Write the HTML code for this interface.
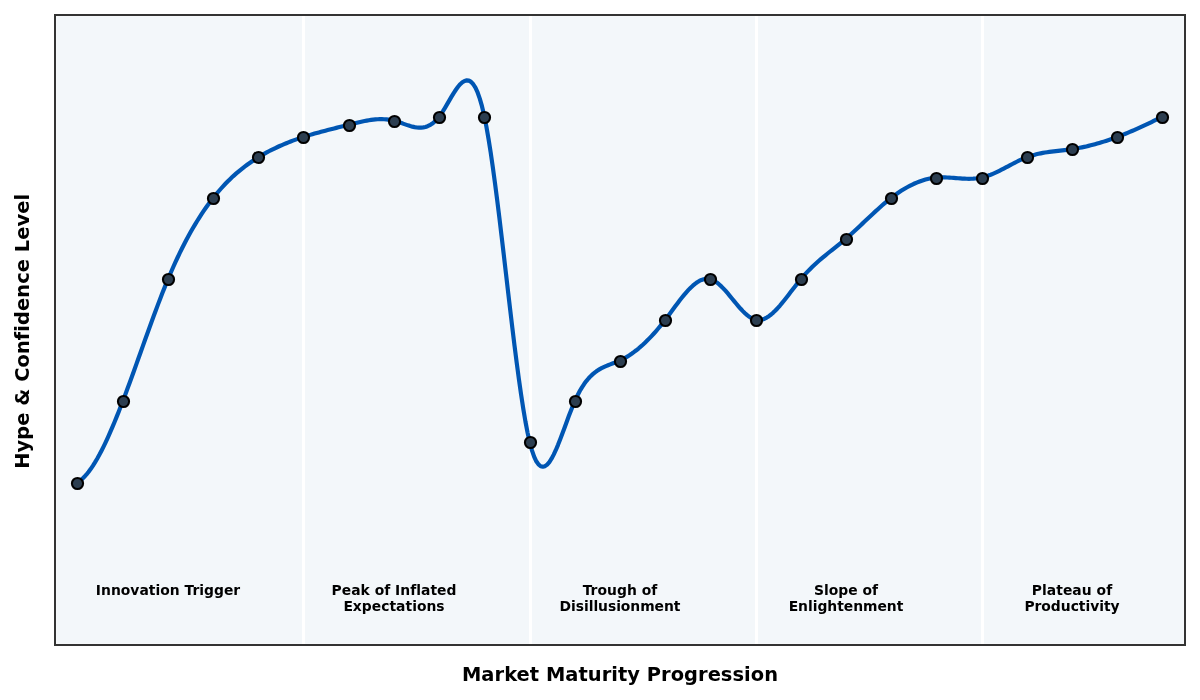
<!DOCTYPE html>
<html><head><meta charset="utf-8"><title>Hype Cycle</title>
<style>
html,body{margin:0;padding:0;background:#fff;width:1200px;height:700px;overflow:hidden}
svg{display:block;will-change:transform}
text{font-family:'DejaVu Sans','Liberation Sans',sans-serif;font-weight:bold;fill:#000;font-variant-ligatures:none;font-feature-settings:"liga" 0,"clig" 0}
</style></head><body>
<svg width="1200" height="700" viewBox="0 0 1200 700">
<defs><clipPath id="ax"><rect x="55.0" y="15.0" width="1130.0" height="630.0"/></clipPath></defs>
<rect x="0" y="0" width="1200" height="700" fill="#ffffff"/>
<g clip-path="url(#ax)">
<rect x="55.0" y="15.0" width="1130.0" height="630.0" fill="#f3f7fa"/>
<rect x="56.5" y="16.5" width="1127" height="627" fill="none" stroke="#f6f8fa" stroke-width="1"/>
<g fill="#ffffff"><rect x="302" y="16" width="3" height="628"/><rect x="529" y="16" width="3" height="628"/><rect x="755" y="16" width="3" height="628"/><rect x="981" y="16" width="3" height="628"/></g>
<path d="M77.60 482.42 L79.77 480.95 L81.95 479.17 L84.12 477.07 L86.30 474.69 L88.47 472.02 L90.64 469.07 L92.82 465.87 L94.99 462.42 L97.17 458.73 L99.34 454.81 L101.51 450.67 L103.69 446.33 L105.86 441.80 L108.04 437.09 L110.21 432.20 L112.38 427.16 L114.56 421.97 L116.73 416.64 L118.91 411.18 L121.08 405.61 L123.25 399.94 L125.43 394.18 L127.60 388.33 L129.77 382.42 L131.95 376.45 L134.12 370.43 L136.30 364.38 L138.47 358.30 L140.64 352.21 L142.82 346.12 L144.99 340.04 L147.17 333.98 L149.34 327.95 L151.51 321.97 L153.69 316.04 L155.86 310.18 L158.04 304.39 L160.21 298.70 L162.38 293.10 L164.56 287.62 L166.73 282.26 L168.91 277.03 L171.08 271.95 L173.25 267.00 L175.43 262.18 L177.60 257.50 L179.78 252.95 L181.95 248.53 L184.12 244.23 L186.30 240.06 L188.47 236.02 L190.65 232.09 L192.82 228.28 L194.99 224.59 L197.17 221.01 L199.34 217.54 L201.52 214.18 L203.69 210.93 L205.86 207.78 L208.04 204.74 L210.21 201.79 L212.38 198.95 L214.56 196.20 L216.73 193.54 L218.91 190.98 L221.08 188.50 L223.25 186.11 L225.43 183.80 L227.60 181.58 L229.78 179.43 L231.95 177.36 L234.12 175.36 L236.30 173.43 L238.47 171.57 L240.65 169.78 L242.82 168.05 L244.99 166.38 L247.17 164.77 L249.34 163.21 L251.52 161.70 L253.69 160.25 L255.86 158.84 L258.04 157.48 L260.21 156.16 L262.39 154.88 L264.56 153.64 L266.73 152.45 L268.91 151.28 L271.08 150.16 L273.26 149.07 L275.43 148.01 L277.60 146.99 L279.78 146.00 L281.95 145.04 L284.13 144.11 L286.30 143.21 L288.47 142.34 L290.65 141.49 L292.82 140.67 L294.99 139.87 L297.17 139.10 L299.34 138.35 L301.52 137.62 L303.69 136.91 L305.86 136.21 L308.04 135.54 L310.21 134.88 L312.39 134.24 L314.56 133.61 L316.73 132.99 L318.91 132.39 L321.08 131.80 L323.26 131.22 L325.43 130.64 L327.60 130.08 L329.78 129.52 L331.95 128.96 L334.13 128.41 L336.30 127.87 L338.47 127.33 L340.65 126.78 L342.82 126.24 L345.00 125.70 L347.17 125.15 L349.34 124.60 L351.52 124.05 L353.69 123.51 L355.87 122.97 L358.04 122.44 L360.21 121.94 L362.39 121.46 L364.56 121.00 L366.74 120.59 L368.91 120.22 L371.08 119.89 L373.26 119.61 L375.43 119.40 L377.60 119.24 L379.78 119.16 L381.95 119.15 L384.13 119.21 L386.30 119.37 L388.47 119.61 L390.65 119.95 L392.82 120.39 L395.00 120.94 L397.17 121.59 L399.34 122.30 L401.52 123.07 L403.69 123.85 L405.87 124.62 L408.04 125.36 L410.21 126.04 L412.39 126.64 L414.56 127.12 L416.74 127.47 L418.91 127.65 L421.08 127.64 L423.26 127.41 L425.43 126.94 L427.61 126.20 L429.78 125.16 L431.95 123.80 L434.13 122.10 L436.30 120.02 L438.48 117.53 L440.65 114.63 L442.82 111.36 L445.00 107.82 L447.17 104.13 L449.35 100.37 L451.52 96.65 L453.69 93.07 L455.87 89.74 L458.04 86.76 L460.21 84.23 L462.39 82.25 L464.56 80.93 L466.74 80.36 L468.91 80.65 L471.08 81.91 L473.26 84.23 L475.43 87.71 L477.61 92.46 L479.78 98.58 L481.95 106.18 L484.13 115.35 L486.30 126.17 L488.48 138.53 L490.65 152.26 L492.82 167.20 L495.00 183.18 L497.17 200.03 L499.35 217.58 L501.52 235.66 L503.69 254.10 L505.87 272.74 L508.04 291.41 L510.22 309.93 L512.39 328.15 L514.56 345.88 L516.74 362.98 L518.91 379.25 L521.09 394.54 L523.26 408.68 L525.43 421.51 L527.61 432.84 L529.78 442.51 L531.96 450.42 L534.13 456.64 L536.30 461.27 L538.48 464.44 L540.65 466.24 L542.82 466.79 L545.00 466.20 L547.17 464.57 L549.35 462.03 L551.52 458.67 L553.69 454.62 L555.87 449.97 L558.04 444.84 L560.22 439.34 L562.39 433.58 L564.56 427.67 L566.74 421.72 L568.91 415.84 L571.09 410.14 L573.26 404.73 L575.43 399.71 L577.61 395.16 L579.78 391.06 L581.96 387.36 L584.13 384.05 L586.30 381.10 L588.48 378.49 L590.65 376.17 L592.83 374.13 L595.00 372.34 L597.17 370.76 L599.35 369.38 L601.52 368.16 L603.70 367.08 L605.87 366.10 L608.04 365.21 L610.22 364.37 L612.39 363.55 L614.57 362.73 L616.74 361.88 L618.91 360.97 L621.09 359.97 L623.26 358.88 L625.43 357.68 L627.61 356.39 L629.78 355.01 L631.96 353.52 L634.13 351.94 L636.30 350.27 L638.48 348.51 L640.65 346.66 L642.83 344.72 L645.00 342.69 L647.17 340.57 L649.35 338.37 L651.52 336.09 L653.70 333.72 L655.87 331.27 L658.04 328.73 L660.22 326.12 L662.39 323.43 L664.57 320.66 L666.74 317.82 L668.91 314.91 L671.09 311.98 L673.26 309.02 L675.44 306.08 L677.61 303.17 L679.78 300.32 L681.96 297.54 L684.13 294.87 L686.31 292.32 L688.48 289.92 L690.65 287.69 L692.83 285.66 L695.00 283.84 L697.18 282.26 L699.35 280.95 L701.52 279.92 L703.70 279.21 L705.87 278.82 L708.04 278.80 L710.22 279.15 L712.39 279.89 L714.57 281.00 L716.74 282.45 L718.91 284.18 L721.09 286.16 L723.26 288.35 L725.44 290.71 L727.61 293.21 L729.78 295.80 L731.96 298.45 L734.13 301.11 L736.31 303.74 L738.48 306.31 L740.65 308.78 L742.83 311.11 L745.00 313.26 L747.18 315.18 L749.35 316.85 L751.52 318.22 L753.70 319.25 L755.87 319.90 L758.05 320.15 L760.22 320.02 L762.39 319.53 L764.57 318.71 L766.74 317.58 L768.92 316.17 L771.09 314.50 L773.26 312.60 L775.44 310.49 L777.61 308.21 L779.79 305.76 L781.96 303.19 L784.13 300.51 L786.31 297.76 L788.48 294.94 L790.65 292.10 L792.83 289.26 L795.00 286.43 L797.18 283.65 L799.35 280.95 L801.52 278.34 L803.70 275.84 L805.87 273.44 L808.05 271.14 L810.22 268.93 L812.39 266.79 L814.57 264.74 L816.74 262.75 L818.92 260.81 L821.09 258.93 L823.26 257.09 L825.44 255.28 L827.61 253.51 L829.79 251.75 L831.96 250.01 L834.13 248.27 L836.31 246.53 L838.48 244.78 L840.66 243.01 L842.83 241.22 L845.00 239.40 L847.18 237.53 L849.35 235.63 L851.53 233.69 L853.70 231.71 L855.87 229.72 L858.05 227.70 L860.22 225.66 L862.40 223.62 L864.57 221.57 L866.74 219.51 L868.92 217.47 L871.09 215.43 L873.26 213.40 L875.44 211.40 L877.61 209.42 L879.79 207.47 L881.96 205.55 L884.13 203.67 L886.31 201.84 L888.48 200.06 L890.66 198.33 L892.83 196.66 L895.00 195.05 L897.18 193.50 L899.35 192.02 L901.53 190.60 L903.70 189.25 L905.87 187.96 L908.05 186.75 L910.22 185.60 L912.40 184.52 L914.57 183.51 L916.74 182.58 L918.92 181.72 L921.09 180.93 L923.27 180.22 L925.44 179.58 L927.61 179.02 L929.79 178.54 L931.96 178.14 L934.14 177.83 L936.31 177.59 L938.48 177.43 L940.66 177.35 L942.83 177.34 L945.01 177.37 L947.18 177.46 L949.35 177.58 L951.53 177.73 L953.70 177.90 L955.87 178.07 L958.05 178.25 L960.22 178.42 L962.40 178.56 L964.57 178.68 L966.74 178.76 L968.92 178.80 L971.09 178.78 L973.27 178.69 L975.44 178.53 L977.61 178.28 L979.79 177.94 L981.96 177.50 L984.14 176.95 L986.31 176.30 L988.48 175.56 L990.66 174.74 L992.83 173.84 L995.01 172.88 L997.18 171.87 L999.35 170.81 L1001.53 169.71 L1003.70 168.58 L1005.88 167.44 L1008.05 166.29 L1010.22 165.13 L1012.40 163.99 L1014.57 162.86 L1016.75 161.75 L1018.92 160.69 L1021.09 159.66 L1023.27 158.70 L1025.44 157.79 L1027.62 156.95 L1029.79 156.19 L1031.96 155.50 L1034.14 154.88 L1036.31 154.31 L1038.48 153.80 L1040.66 153.34 L1042.83 152.92 L1045.01 152.55 L1047.18 152.20 L1049.35 151.89 L1051.53 151.60 L1053.70 151.33 L1055.88 151.08 L1058.05 150.83 L1060.22 150.59 L1062.40 150.35 L1064.57 150.10 L1066.75 149.84 L1068.92 149.56 L1071.09 149.26 L1073.27 148.94 L1075.44 148.58 L1077.62 148.20 L1079.79 147.79 L1081.96 147.36 L1084.14 146.90 L1086.31 146.41 L1088.49 145.89 L1090.66 145.35 L1092.83 144.79 L1095.01 144.20 L1097.18 143.59 L1099.36 142.96 L1101.53 142.30 L1103.70 141.62 L1105.88 140.92 L1108.05 140.20 L1110.23 139.45 L1112.40 138.69 L1114.57 137.91 L1116.75 137.11 L1118.92 136.28 L1121.09 135.44 L1123.27 134.59 L1125.44 133.71 L1127.62 132.82 L1129.79 131.91 L1131.96 130.98 L1134.14 130.04 L1136.31 129.09 L1138.49 128.12 L1140.66 127.13 L1142.83 126.13 L1145.01 125.12 L1147.18 124.10 L1149.36 123.06 L1151.53 122.01 L1153.70 120.95 L1155.88 119.88 L1158.05 118.80 L1160.23 117.71 L1162.40 116.61" fill="none" stroke="#0056b3" stroke-width="4.167" stroke-linejoin="round" stroke-linecap="square"/>
<g fill="#2c3e50" stroke="#000000" stroke-width="2.083"><circle cx="77.5" cy="483.5" r="5.556"/><circle cx="123.5" cy="401.5" r="5.556"/><circle cx="168.5" cy="279.5" r="5.556"/><circle cx="213.5" cy="198.5" r="5.556"/><circle cx="258.5" cy="157.5" r="5.556"/><circle cx="303.5" cy="137.5" r="5.556"/><circle cx="349.5" cy="125.5" r="5.556"/><circle cx="394.5" cy="121.5" r="5.556"/><circle cx="439.5" cy="117.5" r="5.556"/><circle cx="484.5" cy="117.5" r="5.556"/><circle cx="530.5" cy="442.5" r="5.556"/><circle cx="575.5" cy="401.5" r="5.556"/><circle cx="620.5" cy="361.5" r="5.556"/><circle cx="665.5" cy="320.5" r="5.556"/><circle cx="710.5" cy="279.5" r="5.556"/><circle cx="756.5" cy="320.5" r="5.556"/><circle cx="801.5" cy="279.5" r="5.556"/><circle cx="846.5" cy="239.5" r="5.556"/><circle cx="891.5" cy="198.5" r="5.556"/><circle cx="936.5" cy="178.5" r="5.556"/><circle cx="982.5" cy="178.5" r="5.556"/><circle cx="1027.5" cy="157.5" r="5.556"/><circle cx="1072.5" cy="149.5" r="5.556"/><circle cx="1117.5" cy="137.5" r="5.556"/><circle cx="1162.5" cy="117.5" r="5.556"/></g>
</g>
<rect x="55.0" y="15.0" width="1130.0" height="630.0" fill="none" stroke="#333333" stroke-width="2"/>
<g text-anchor="middle" font-size="13.889"><text x="168.00" y="594.59" textLength="144.375" lengthAdjust="spacing">Innovation Trigger</text><text x="394.00" y="594.59" textLength="124.875" lengthAdjust="spacing">Peak of Inflated</text><text x="394.00" y="610.90" textLength="101.25" lengthAdjust="spacing">Expectations</text><text x="620.00" y="594.59" textLength="74.75" lengthAdjust="spacing">Trough of</text><text x="620.00" y="610.90" textLength="120.875" lengthAdjust="spacing">Disillusionment</text><text x="846.00" y="594.59" textLength="64.125" lengthAdjust="spacing">Slope of</text><text x="846.00" y="610.90" textLength="114.75" lengthAdjust="spacing">Enlightenment</text><text x="1072.00" y="594.59" textLength="80.375" lengthAdjust="spacing">Plateau of</text><text x="1072.00" y="610.90" textLength="95.25" lengthAdjust="spacing">Productivity</text></g>
<text x="620" y="680.61" textLength="316" lengthAdjust="spacing" text-anchor="middle" font-size="19.444">Market Maturity Progression</text>
<text x="29.1" y="331.3" textLength="275" lengthAdjust="spacing" text-anchor="middle" font-size="19.444" transform="rotate(-90 29.1 331.3)">Hype &amp; Confidence Level</text>
</svg>
</body></html>
